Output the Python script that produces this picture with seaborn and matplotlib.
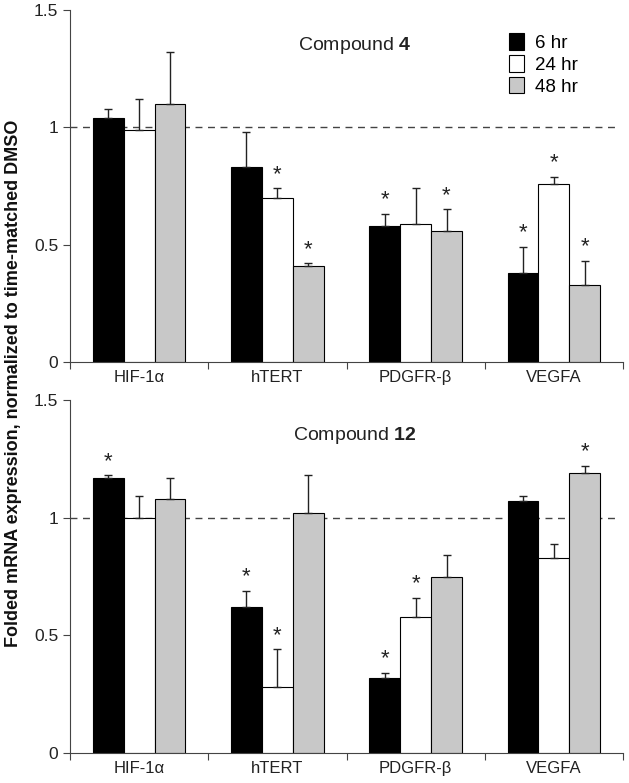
import matplotlib
matplotlib.use("Agg")
import matplotlib.pyplot as plt
import matplotlib.patches as mpatches
import seaborn as sns
import pandas as pd
import numpy as np

genes = ["HIF-1\u03b1", "hTERT", "PDGFR-\u03b2", "VEGFA"]
times = ["6 hr", "24 hr", "48 hr"]
colors = ["#000000", "#ffffff", "#c8c8c8"]

# compound 4: mean per time point (rows) x gene (cols)
c4_mean = [[1.04, 0.83, 0.58, 0.38],
           [0.99, 0.70, 0.59, 0.76],
           [1.10, 0.41, 0.56, 0.33]]
c4_err = [[0.04, 0.15, 0.05, 0.11],
          [0.13, 0.04, 0.15, 0.03],
          [0.22, 0.01, 0.09, 0.10]]
c4_star = [[0, 0, 1, 1],
           [0, 1, 0, 1],
           [0, 1, 1, 1]]

# compound 12
c12_mean = [[1.17, 0.62, 0.32, 1.07],
            [1.00, 0.28, 0.58, 0.83],
            [1.08, 1.02, 0.75, 1.19]]
c12_err = [[0.01, 0.07, 0.02, 0.02],
           [0.09, 0.16, 0.08, 0.06],
           [0.09, 0.16, 0.09, 0.03]]
c12_star = [[1, 1, 1, 0],
            [0, 1, 1, 0],
            [0, 0, 0, 1]]

plt.rcParams['font.family'] = ['Liberation Sans', 'DejaVu Sans']
plt.rcParams['mathtext.fontset'] = 'custom'
plt.rcParams['mathtext.rm'] = 'Liberation Sans'
plt.rcParams['mathtext.bf'] = 'Liberation Sans:bold'

fig = plt.figure(figsize=(6.29, 7.83), dpi=100)
W, H = 629, 783
ax1 = fig.add_axes([70 / W, 1 - 362 / H, 553 / W, 352 / H])
ax2 = fig.add_axes([70 / W, 1 - 753 / H, 553 / W, 353 / H])


def draw_panel(ax, means, errs, stars, title_num):
    rows = []
    for ti, t in enumerate(times):
        for gi, g in enumerate(genes):
            rows.append({"gene": g, "time": t, "value": means[ti][gi]})
    df = pd.DataFrame(rows)
    sns.barplot(data=df, x="gene", y="value", hue="time", order=genes,
                hue_order=times, palette=colors, edgecolor="black",
                linewidth=0.8, width=0.67, errorbar=None, legend=False, ax=ax)
    bar_groups = list(ax.containers)
    for ti, cont in enumerate(bar_groups):
        for gi, bar in enumerate(cont):
            xc = bar.get_x() + bar.get_width() / 2
            h = bar.get_height()
            e = errs[ti][gi]
            ax.errorbar(xc, h, yerr=[[0], [e]], fmt="none", ecolor="#222222",
                        elinewidth=1.0, capsize=3, capthick=1.0, zorder=3)
            if stars[ti][gi]:
                ax.text(xc, h + e + 0.015, "*", ha="center", va="bottom",
                        fontsize=16, color="#222222")
    ax.axhline(1, xmin=0, xmax=0.99, color="#444444", linestyle=(0, (5, 4)),
               linewidth=1, zorder=0.5)
    ax.set_ylim(0, 1.5)
    ax.set_xlim(-0.5, 3.5)
    ax.set_yticks([0, 0.5, 1, 1.5])
    ax.set_yticklabels(["0", "0.5", "1", "1.5"], fontsize=12.5, color="#222222")
    ax.set_xticks([-0.5, 0.5, 1.5, 2.5, 3.5])
    ax.set_xticklabels([])
    ax.set_xticks([0, 1, 2, 3], minor=True)
    ax.set_xticklabels(genes, minor=True, fontsize=12, color="#222222")
    ax.tick_params(axis="x", which="minor", length=0, pad=6)
    ax.tick_params(axis="x", which="major", length=5, color="#444444")
    ax.tick_params(axis="y", length=5, color="#444444")
    ax.set_xlabel("")
    ax.set_ylabel("")
    for s in ["top", "right"]:
        ax.spines[s].set_visible(False)
    for s in ["left", "bottom"]:
        ax.spines[s].set_color("#444444")
    ax.text(0.515, 0.9, "Compound $\\mathbf{" + title_num + "}$",
            transform=ax.transAxes, ha="center", va="center", fontsize=14,
            color="#222222")


draw_panel(ax1, c4_mean, c4_err, c4_star, "4")
draw_panel(ax2, c12_mean, c12_err, c12_star, "12")

handles = [mpatches.Patch(facecolor=c, edgecolor="black", linewidth=0.8, label=t)
           for c, t in zip(colors, times)]
ax1.legend(handles=handles, loc="upper right", bbox_to_anchor=(0.935, 0.96),
           frameon=False, fontsize=13.5, handlelength=0.8, handleheight=1.0,
           handletextpad=0.6, labelspacing=0.15, borderpad=0)

fig.text(14 / W, 1 - 383 / H, "Folded mRNA expression, normalized to time-matched DMSO",
         rotation=90, ha="center", va="center", fontsize=13, fontweight="bold",
         color="#111111")

fig.savefig("out.png", dpi=100)
